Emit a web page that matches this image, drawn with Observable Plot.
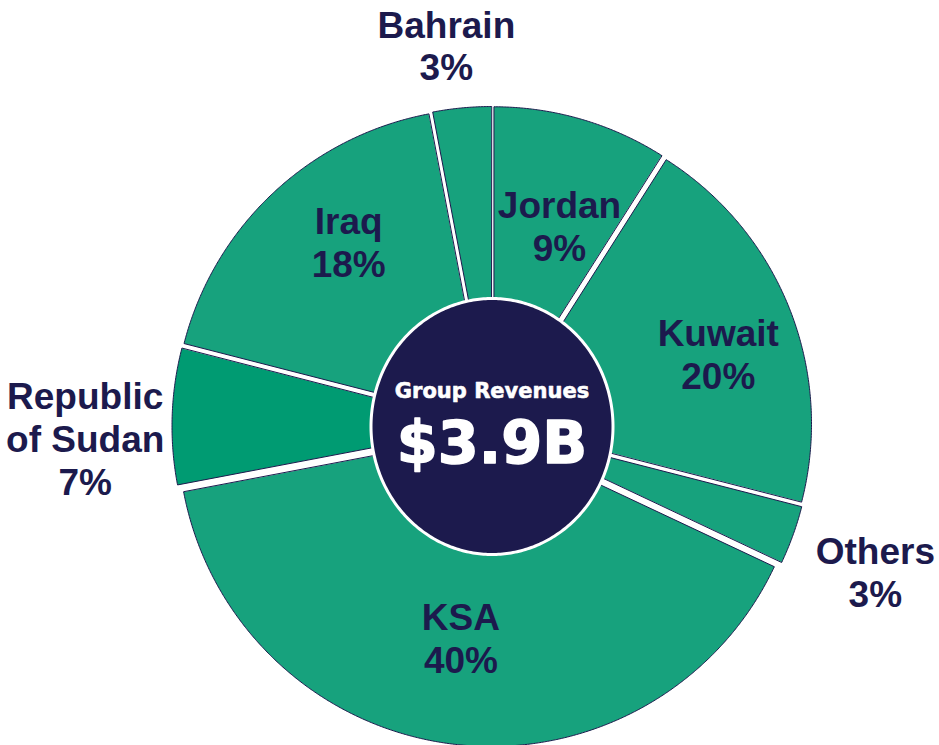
<!DOCTYPE html>
<html><head><meta charset="utf-8">
<script src="https://cdn.jsdelivr.net/npm/d3@7"></script>
<script src="https://cdn.jsdelivr.net/npm/@observablehq/plot@0.6"></script>
<style>body{margin:0;background:#fff}</style>
</head><body><div id="chart"></div>
<script>
// ---- data ----
const categories = ["Jordan", "Kuwait", "Others", "KSA", "Republic of Sudan", "Iraq", "Bahrain"];
const labels = ["Jordan", "Kuwait", "Others", "KSA", "Republic\nof Sudan", "Iraq", "Bahrain"];
const shares = [9, 20, 3, 40, 7, 18, 3];
const centerTitle = "Group Revenues";
const centerValue = "$3.9B";
const highlighted = "Republic of Sudan";

// ---- layout / style ----
const W = 939, H = 745;
const CX = 491.5, CY = 426, R = 313, EXPLODE = 7;
const HOLE_RX = 121, HOLE_RY = 128;
const R_IN = 224, R_OUT = 400, SMALL = 8;
// hand-placed label nudges (pixels) as in the original slide
const labelNudge = {
  "Jordan": [5, 14], "Kuwait": [18, 10], "Others": [7, 10], "KSA": [-3, -11],
  "Republic of Sudan": [-7, 24], "Iraq": [10, -21], "Bahrain": [-8, 17]
};
const TEAL = "#17A27D", TEAL_DARK = "#009B72", NAVY = "#1C1A4D";
const LABEL_FONT = "'Liberation Sans', Arial, sans-serif";
const CENTER_FONT = "'DejaVu Sans', Verdana, sans-serif";

const arcs = d3.pie().sort(null).value(d => d.value)(
  categories.map((name, i) => ({name, label: labels[i], value: shares[i]}))
);

const slicePts = [];
const labelPts = [];
for (const a of arcs) {
  const name = a.data.name;
  const mid = (a.startAngle + a.endAngle) / 2;
  const ox = CX + EXPLODE * Math.sin(mid), oy = CY - EXPLODE * Math.cos(mid);
  slicePts.push({name, x: ox, y: oy});
  const n = Math.max(2, Math.ceil((a.endAngle - a.startAngle) / 0.005));
  for (let k = 0; k <= n; k++) {
    const t = a.startAngle + (a.endAngle - a.startAngle) * k / n;
    slicePts.push({name, x: ox + R * Math.sin(t), y: oy - R * Math.cos(t)});
  }
  const lr = a.data.value < SMALL ? R_OUT : R_IN;
  const [nx, ny] = labelNudge[name] || [0, 0];
  labelPts.push({
    text: `${a.data.label}\n${a.data.value}%`,
    x: CX + lr * Math.sin(mid) + nx,
    y: CY - lr * Math.cos(mid) + ny
  });
}

const holePts = d3.range(0, 360, 1).map(deg => {
  const t = deg * Math.PI / 180;
  return {x: CX + HOLE_RX * Math.sin(t), y: CY - HOLE_RY * Math.cos(t)};
});

const chart = Plot.plot({
  width: W, height: H, margin: 0,
  x: {domain: [0, W], axis: null},
  y: {domain: [0, H], reverse: true, axis: null},
  color: {type: "identity"},
  style: {background: "white"},
  marks: [
    Plot.line(slicePts, {x: "x", y: "y", z: "name", curve: "linear-closed",
      fill: d => d.name === highlighted ? TEAL_DARK : TEAL, stroke: NAVY, strokeWidth: 1}),
    Plot.line(holePts, {x: "x", y: "y", curve: "linear-closed", fill: NAVY, stroke: "white", strokeWidth: 3}),
    Plot.text(labelPts, {x: "x", y: "y", text: "text", fontSize: 37, fontWeight: "bold",
      fontFamily: LABEL_FONT, fill: NAVY, lineHeight: 1.16, lineAnchor: "middle"}),
    Plot.text([centerTitle], {x: CX, y: CY, text: d => d, dy: -35, fontSize: 21, fontWeight: "bold",
      fontFamily: CENTER_FONT, fill: "white", stroke: "white", strokeWidth: 0.6, lineAnchor: "middle"}),
    Plot.text([centerValue], {x: CX, y: CY, text: d => d, dy: 17.5, fontSize: 59, fontWeight: "bold",
      fontFamily: CENTER_FONT, fill: "white", stroke: "white", strokeWidth: 1.5, lineAnchor: "middle"})
  ]
});
document.getElementById("chart").appendChild(chart);
</script>
</body></html>
